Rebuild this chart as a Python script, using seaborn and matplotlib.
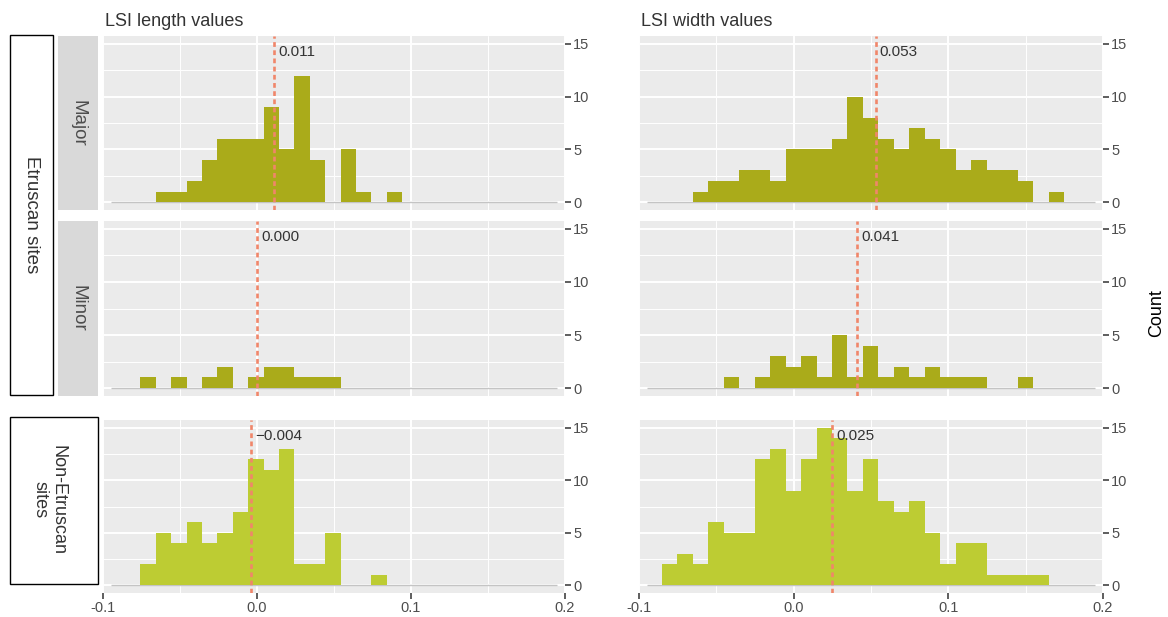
"""
plot.py - LSI length / width histograms by site group
"""

import matplotlib

matplotlib.use("Agg")

import matplotlib.pyplot as plt
from matplotlib.patches import Rectangle
from matplotlib.ticker import MultipleLocator, FixedLocator
import numpy as np
import pandas as pd
import seaborn as sns


# histogram counts, read per 0.01 bin
BIN_WIDTH = 0.01
LENGTH_FIRST_EDGE = -0.0757
WIDTH_FIRST_EDGE = -0.0852

length_major = [0, 1, 1, 2, 4, 6, 6, 6, 9, 5, 12, 4, 0, 5, 1, 0, 1]
length_minor = [1, 0, 1, 0, 1, 2, 0, 1, 2, 2, 1, 1, 1]
length_non = [2, 5, 4, 6, 4, 5, 7, 12, 11, 13, 2, 2, 5, 0, 0, 1]

width_major = [0, 0, 1, 2, 2, 3, 3, 2, 5, 5, 5, 6, 10, 8, 6, 5, 7, 6, 5, 3, 4, 3, 3, 2, 0, 1]
width_minor = [0, 0, 0, 0, 1, 0, 1, 3, 2, 3, 1, 5, 1, 4, 1, 2, 1, 2, 1, 1, 1, 0, 0, 1]
width_non = [2, 3, 2, 6, 5, 5, 12, 13, 9, 12, 15, 14, 9, 12, 8, 7, 8, 5, 2, 4, 4, 1, 1, 1, 1]

length_means = [0.011, 0.000, -0.004]
width_means = [0.053, 0.041, 0.025]

col_titles = ["LSI length values", "LSI width values"]
row_strips = ["Major", "Minor"]
outer_labels = ["Etruscan sites", "Non-Etruscan\nsites"]
x_ticks = [-0.1, 0.0, 0.1, 0.2]
x_tick_labels = ["-0.1", "0.0", "0.1", "0.2"]
y_ticks = [0, 5, 10, 15]

ETRUSCAN_COLOR = "#AAAB1A"
NON_ETRUSCAN_COLOR = "#BDCC33"
MEAN_COLOR = "#F0866A"

W, H = 1168, 617


def px_rect(x0, y0, x1, y1):
    return [x0 / W, 1 - y1 / H, (x1 - x0) / W, (y1 - y0) / H]


sns.set_theme(style="darkgrid", rc={
    "axes.facecolor": "#EBEBEB",
    "grid.color": "white",
    "axes.unicode_minus": False,
})
plt.rcParams["font.family"] = ["Liberation Sans", "DejaVu Sans"]

fig = plt.figure(figsize=(W / 100, H / 100), dpi=100)

col_x = [(103, 565), (639, 1103)]
row_y = [(36, 210), (221, 396), (420, 593)]

columns = [
    (LENGTH_FIRST_EDGE, [length_major, length_minor, length_non], length_means),
    (WIDTH_FIRST_EDGE, [width_major, width_minor, width_non], width_means),
]

for ci, (first_edge, counts_rows, means) in enumerate(columns):
    x0, x1 = col_x[ci]
    for ri, counts in enumerate(counts_rows):
        y0, y1 = row_y[ri]
        ax = fig.add_axes(px_rect(x0, y0, x1, y1))
        n = len(counts)
        df = pd.DataFrame({
            "value": first_edge + BIN_WIDTH * (np.arange(n) + 0.5),
            "count": counts,
        })
        color = NON_ETRUSCAN_COLOR if ri == 2 else ETRUSCAN_COLOR
        ax.hlines(0, -0.095, 0.195, color="#C4C4C4", lw=1.0, zorder=0.8)
        sns.histplot(data=df, x="value", weights="count", binwidth=BIN_WIDTH,
                     binrange=(first_edge, first_edge + BIN_WIDTH * n), ax=ax,
                     color=color, alpha=1, linewidth=0, zorder=2)
        m = means[ri]
        ax.axvline(m, color=MEAN_COLOR, lw=1.9, ls=(0, (1.8, 1.3)), zorder=3)
        label = f"{m:.3f}".replace("-", "\u2212")
        ax.annotate(label, xy=(m, 14.2), xytext=(3, 0), textcoords="offset points",
                    ha="left", va="center", fontsize=11, color="#333333", zorder=4)

        ax.set_xlim(-0.1, 0.2)
        ax.set_ylim(-0.75, 15.75)
        ax.set_xlabel("")
        ax.set_ylabel("")
        ax.xaxis.set_major_locator(FixedLocator(x_ticks))
        ax.xaxis.set_minor_locator(MultipleLocator(0.05))
        ax.yaxis.set_major_locator(FixedLocator(y_ticks))
        ax.yaxis.set_minor_locator(MultipleLocator(2.5))
        ax.grid(which="major", color="white", lw=1.4)
        ax.grid(which="minor", color="white", lw=0.7)
        for s in ax.spines.values():
            s.set_visible(False)

        ax.yaxis.tick_right()
        ax.tick_params(axis="y", which="major", right=True, left=False, length=4,
                       width=1.1, color="#333333", labelsize=10.5,
                       labelcolor="#4D4D4D", pad=2)
        ax.tick_params(axis="both", which="minor", length=0)
        ax.set_yticklabels([str(t) for t in y_ticks])
        if ri == 2:
            ax.tick_params(axis="x", which="major", bottom=True, length=4, width=1.1,
                           color="#333333", labelsize=10.5, labelcolor="#4D4D4D", pad=2)
            ax.set_xticklabels(x_tick_labels)
        else:
            ax.tick_params(axis="x", which="major", length=0, labelbottom=False)

    fig.text((x0 + 2) / W, 1 - 21 / H, col_titles[ci], ha="left", va="center",
             fontsize=13, color="#333333")

# inner strips (Major / Minor)
for ri, name in enumerate(row_strips):
    y0, y1 = row_y[ri]
    fig.add_artist(Rectangle((58 / W, 1 - y1 / H), 40 / W, (y1 - y0) / H,
                             transform=fig.transFigure, facecolor="#D9D9D9",
                             edgecolor="none"))
    fig.text(78 / W, 1 - (y0 + y1) / 2 / H, name, rotation=270, ha="center",
             va="center", fontsize=13.5, color="#4D4D4D")

# outer group boxes
fig.add_artist(Rectangle((9.5 / W, 1 - 395 / H), 43 / W, 360 / H,
                         transform=fig.transFigure, facecolor="white",
                         edgecolor="black", lw=1.0))
fig.text(31 / W, 1 - 215 / H, outer_labels[0], rotation=270, ha="center",
         va="center", fontsize=13.5, color="#333333")
fig.add_artist(Rectangle((9.5 / W, 1 - 584 / H), 88 / W, 167 / H,
                         transform=fig.transFigure, facecolor="white",
                         edgecolor="black", lw=1.0))
fig.text(49 / W, 1 - 500 / H, outer_labels[1], rotation=270, ha="center",
         va="center", fontsize=13, color="#333333", multialignment="center",
         linespacing=1.1)

fig.text(1157 / W, 1 - 313 / H, "Count", rotation=90, ha="center", va="center",
         fontsize=13, color="black")

fig.savefig("out.png", dpi=100)
plt.close(fig)
